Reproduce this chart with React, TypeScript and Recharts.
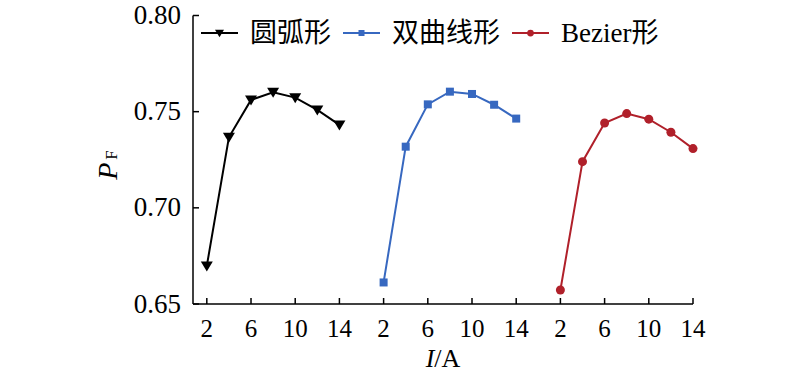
import React from 'react';
import { LineChart, Line, XAxis, YAxis, Legend, Customized } from 'recharts';

const currents = [2, 4, 6, 8, 10, 12, 14];
const groupOffsets = [0, 16, 32];
const arcValues = [0.6698, 0.7367, 0.7561, 0.7601, 0.7573, 0.7509, 0.7431];
const hyperbolaValues = [0.6612, 0.7318, 0.7538, 0.7604, 0.7592, 0.7536, 0.7464];
const bezierValues = [0.6573, 0.724, 0.7441, 0.749, 0.7461, 0.7393, 0.7308];
const xTickLabels = [2, 6, 10, 14];
const yTicks = [0.65, 0.7, 0.75, 0.8];
const seriesNames = ['圆弧形', '双曲线形', 'Bezier形'];
const seriesColors = ['#000000', '#3768c0', '#b0202a'];
const markerKinds = ['triangle', 'square', 'circle'];

const FONT = 'Liberation Serif, "Noto Sans CJK SC", serif';

const seriesValues = [arcValues, hyperbolaValues, bezierValues];
const seriesData = seriesValues.map((vals, g) =>
  currents.map((c, i) => ({ x: c + groupOffsets[g], y: vals[i] }))
);
const xTicks = groupOffsets.flatMap((o) => xTickLabels.map((t) => t + o));
const xLabel = (v: number) => String(((v - 2) % 16) + 2);

function Marker({ kind, cx, cy, color, s = 1 }: any) {
  if (kind === 'triangle') {
    return (
      <path
        d={`M${cx - 6 * s},${cy - 4.5 * s} L${cx + 6 * s},${cy - 4.5 * s} L${cx},${cy + 5.5 * s} Z`}
        fill={color}
      />
    );
  }
  if (kind === 'square') {
    return <rect x={cx - 4 * s} y={cy - 4 * s} width={8 * s} height={8 * s} fill={color} />;
  }
  return <circle cx={cx} cy={cy} r={4.5 * s} fill={color} />;
}

const makeDot = (kind: string, color: string) => (props: any) => {
  const { cx, cy, index } = props;
  if (cx == null || cy == null) return <g key={index} />;
  return (
    <g key={`${kind}-${index}`}>
      <Marker kind={kind} cx={cx} cy={cy} color={color} />
    </g>
  );
};

const XTick = (props: any) => {
  const { x, y, payload } = props;
  return (
    <g>
      <line x1={x} y1={y} x2={x} y2={y - 6} stroke="#000" strokeWidth={1.5} />
      <text x={x} y={y + 33} textAnchor="middle" fontSize={25} style={{ fontFamily: FONT }} fill="#000">
        {xLabel(payload.value)}
      </text>
    </g>
  );
};

const YTick = (props: any) => {
  const { x, y, payload } = props;
  return (
    <g>
      <line x1={x} y1={y} x2={x + 6} y2={y} stroke="#000" strokeWidth={1.5} />
      <text x={x - 12} y={y + 8.5} textAnchor="end" fontSize={27} style={{ fontFamily: FONT }} fill="#000">
        {Number(payload.value).toFixed(2)}
      </text>
    </g>
  );
};

const LegendContent = () => (
  <div style={{ display: 'flex', alignItems: 'center', fontFamily: FONT, fontSize: 27, color: '#000', lineHeight: '30px' }}>
    {seriesNames.map((name, i) => (
      <div key={name} style={{ display: 'flex', alignItems: 'center', marginRight: 12 }}>
        <svg width={37} height={20} style={{ display: 'block' }}>
          <line x1={0} y1={10} x2={37} y2={10} stroke={seriesColors[i]} strokeWidth={2} />
          <Marker kind={markerKinds[i]} cx={18.5} cy={10} color={seriesColors[i]} s={0.75} />
        </svg>
        <span style={{ marginLeft: 12, whiteSpace: 'nowrap' }}>{name}</span>
      </div>
    ))}
  </div>
);

const AxisTitles = () => (
  <g style={{ fontFamily: FONT }} fill="#000">
    <text transform="translate(117,165) rotate(-90)" textAnchor="middle">
      <tspan fontStyle="italic" fontSize={28}>P</tspan>
      <tspan fontSize={17} dx={3}>F</tspan>
    </text>
    <text x={443} y={367} textAnchor="middle" fontSize={26}>
      <tspan fontStyle="italic">I</tspan>
      <tspan>/A</tspan>
    </text>
  </g>
);

export default function App() {
  return (
    <div style={{ position: 'absolute', left: 0, top: 0, width: 800, height: 372, background: '#fff' }}>
      <LineChart
        width={800}
        height={372}
        margin={{ top: 15.5, right: 107, bottom: 8, left: 133 }}
      >
        <XAxis
          type="number"
          dataKey="x"
          domain={[0.75, 46]}
          ticks={xTicks}
          interval={0}
          height={60}
          tickSize={0}
          tickMargin={0}
          tickLine={false}
          tick={<XTick />}
          axisLine={{ stroke: '#000', strokeWidth: 1.5 }}
        />
        <YAxis
          type="number"
          domain={[0.65, 0.8]}
          ticks={yTicks}
          interval={0}
          width={60}
          tickSize={0}
          tickMargin={0}
          tickLine={false}
          tick={<YTick />}
          axisLine={{ stroke: '#000', strokeWidth: 1.5 }}
        />
        {seriesData.map((d, i) => (
          <Line
            key={seriesNames[i]}
            data={d}
            dataKey="y"
            name={seriesNames[i]}
            type="linear"
            stroke={seriesColors[i]}
            strokeWidth={2}
            dot={makeDot(markerKinds[i], seriesColors[i])}
            activeDot={false}
            isAnimationActive={false}
          />
        ))}
        <Legend
          verticalAlign="middle"
          align="center"
          layout="horizontal"
          content={<LegendContent />}
          wrapperStyle={{ position: 'absolute', top: 18, left: 201, width: 580 }}
        />
        <Customized component={AxisTitles} />
      </LineChart>
    </div>
  );
}
